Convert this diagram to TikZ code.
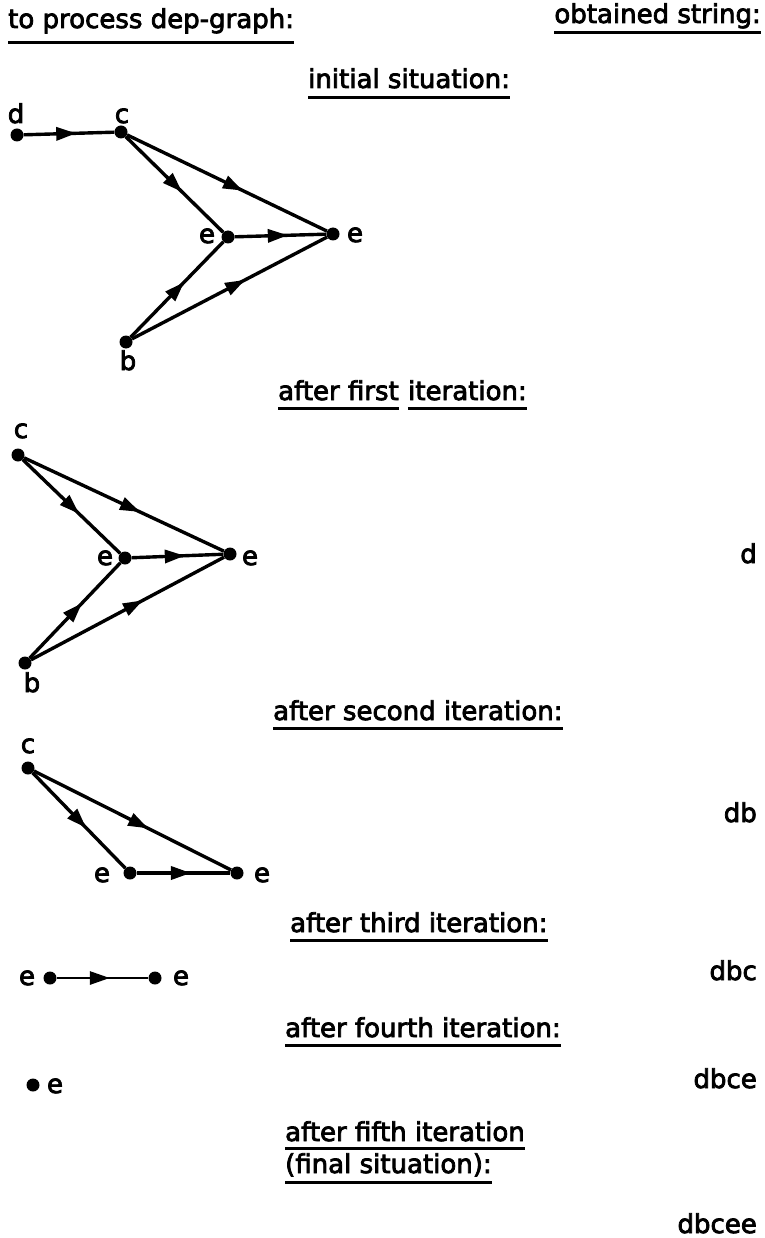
\documentclass[tikz,border=0pt]{standalone}
\usepackage{fontspec}
\setmainfont{DejaVu Sans}[FakeBold=3]
\usetikzlibrary{arrows.meta,decorations.markings}
\begin{document}
\begin{tikzpicture}[x=1pt,y=-1pt,
  txt/.style={inner sep=0pt, font=\fontsize{26}{30}\selectfont},
  lbl/.style={txt, anchor=base},
  head/.style={txt, anchor=base west},
  res/.style={txt, anchor=base east},
  dot/.style={circle, fill=black, inner sep=0pt, minimum size=13pt},
  edge/.style={line width=3.4pt, postaction={decorate},
    decoration={markings, mark=at position 0.58 with {\arrow{Triangle[length=20pt,width=13pt]}}}},
  thinedge/.style={edge, line width=2.8pt},
  uline/.style={line width=3pt}]
\useasboundingbox (0,0) rectangle (764,1238);

% headings
\node[head] (h0) at (8,28) {to process dep-graph:};
\draw[uline] ([yshift=-15pt]h0.base west) -- ([yshift=-15pt]h0.base east);
\node[res] (hR) at (761,23) {obtained string:};
\draw[uline] ([yshift=-10pt]hR.base west) -- ([yshift=-10pt]hR.base east);
\node[head] (h1) at (308,88) {initial situation:};
\draw[uline] ([yshift=-10pt]h1.base west) -- ([yshift=-10pt]h1.base east);
\node[head] (h2a) at (278,400) {after first};
\node[head] (h2b) at ([xshift=9pt]h2a.base east) {iteration:};
\draw[uline] ([yshift=-8pt]h2a.base west) -- ([yshift=-8pt]h2a.base east);
\draw[uline] ([yshift=-8pt]h2b.base west) -- ([yshift=-8pt]h2b.base east);
\node[head] (h3) at (273,720) {after second iteration:};
\draw[uline] ([yshift=-8pt]h3.base west) -- ([yshift=-8pt]h3.base east);
\node[head] (h4) at (290,932) {after third iteration:};
\draw[uline] ([yshift=-8pt]h4.base west) -- ([yshift=-8pt]h4.base east);
\node[head] (h5) at (285,1037) {after fourth iteration:};
\draw[uline] ([yshift=-8pt]h5.base west) -- ([yshift=-8pt]h5.base east);
\node[head] (h6) at (285,1141) {after fifth iteration};
\draw[uline] ([yshift=-7pt]h6.base west) -- ([yshift=-7pt]h6.base east);
\node[head] (h7) at (285,1173) {(final situation):};
\draw[uline] ([yshift=-9pt]h7.base west) -- ([yshift=-9pt]h7.base east);

% obtained strings
\node[res] (r1) at (757,563) {d};
\node[res] (r2) at (757,822) {db};
\node[res] (r3) at (757,980) {dbc};
\node[res] (r4) at (757,1088) {dbce};
\node[res] (r5) at (757,1233) {dbcee};

% graph 1
\node[dot] (g1d) at (17,135) {};
\node[dot] (g1c) at (121,132) {};
\node[dot] (g1e1) at (228,237) {};
\node[dot] (g1e2) at (333,234) {};
\node[dot] (g1b) at (126,342) {};
\node[lbl] (l1d) at (16,123) {d};
\node[lbl] (l1c) at (122,123) {c};
\node[lbl] (l1e1) at (207,243) {e};
\node[lbl] (l1e2) at (355,242) {e};
\node[lbl] (l1b) at (128,370) {b};
\draw[edge] (g1d) -- (g1c);
\draw[edge] (g1c) -- (g1e1);
\draw[edge] (g1c) -- (g1e2);
\draw[edge] (g1e1) -- (g1e2);
\draw[edge] (g1b) -- (g1e1);
\draw[edge] (g1b) -- (g1e2);

% graph 2
\node[dot] (g2c) at (18,455) {};
\node[dot] (g2e1) at (125,558) {};
\node[dot] (g2e2) at (230,554) {};
\node[dot] (g2b) at (25,663) {};
\node[lbl] (l2c) at (21,438) {c};
\node[lbl] (l2e1) at (105,565) {e};
\node[lbl] (l2e2) at (250,565) {e};
\node[lbl] (l2b) at (32,692) {b};
\draw[edge] (g2c) -- (g2e1);
\draw[edge] (g2c) -- (g2e2);
\draw[edge] (g2e1) -- (g2e2);
\draw[edge] (g2b) -- (g2e1);
\draw[edge] (g2b) -- (g2e2);

% graph 3
\node[dot] (g3c) at (28,768) {};
\node[dot] (g3e1) at (130,873) {};
\node[dot] (g3e2) at (237,873) {};
\node[lbl] (l3c) at (28,753) {c};
\node[lbl] (l3e1) at (102,882) {e};
\node[lbl] (l3e2) at (262,882) {e};
\draw[edge] (g3c) -- (g3e1);
\draw[edge] (g3c) -- (g3e2);
\draw[edge] (g3e1) -- (g3e2);

% graph 4
\node[dot] (g4e1) at (50,978) {};
\node[dot] (g4e2) at (155,978) {};
\node[lbl] (l4e1) at (27,985) {e};
\node[lbl] (l4e2) at (181,985) {e};
\draw[thinedge] (g4e1) -- (g4e2);

% graph 5
\node[dot] (g5e) at (33,1085) {};
\node[lbl] (l5e) at (55,1093) {e};
\end{tikzpicture}
\end{document}
